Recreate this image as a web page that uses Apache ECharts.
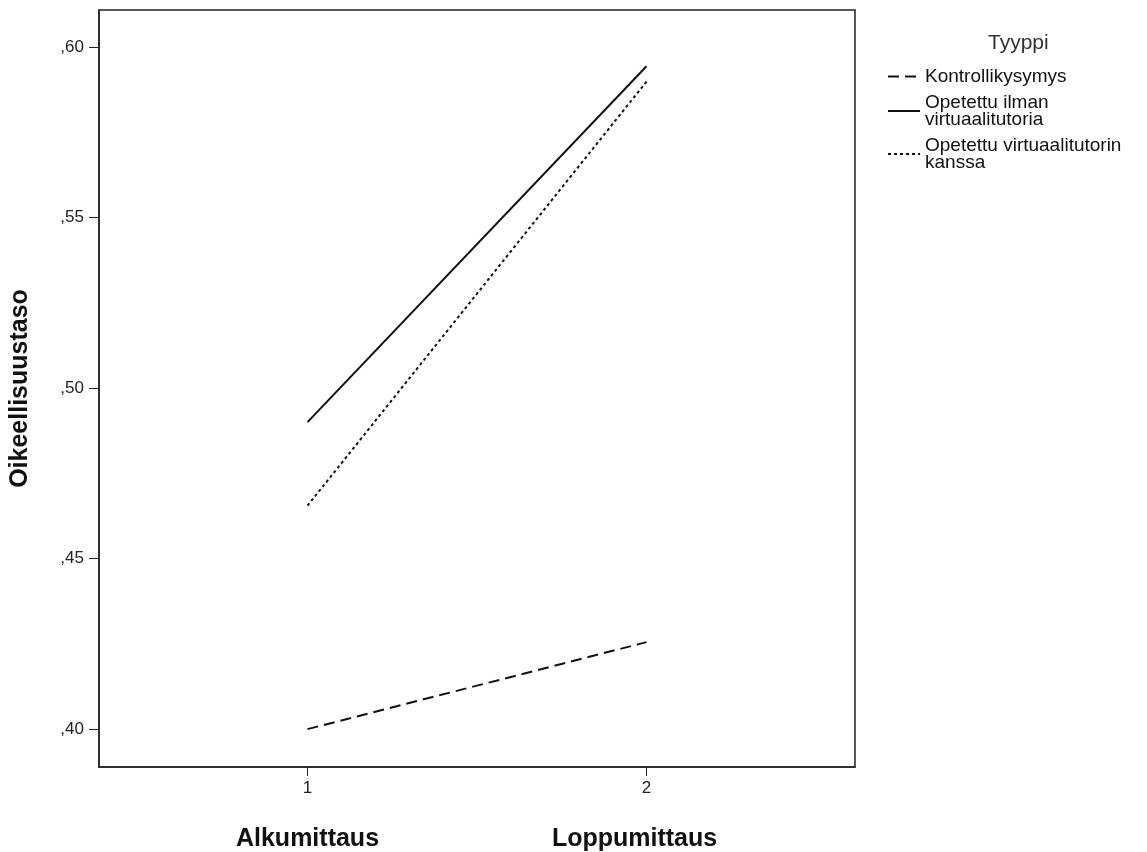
<!DOCTYPE html>
<html>
<head>
<meta charset="utf-8">
<script src="https://cdn.jsdelivr.net/npm/echarts@6/dist/echarts.min.js"></script>
<style>html,body{margin:0;padding:0;background:#fff}#c{width:1147px;height:852px}</style>
</head>
<body>
<div id="c"></div>
<script>
var xValues = [1, 2];
var xCategoryNames = ['Alkumittaus', 'Loppumittaus'];
var yTicks = [0.40, 0.45, 0.50, 0.55, 0.60];
var seriesNames = ['Kontrollikysymys', 'Opetettu ilman\nvirtuaalitutoria', 'Opetettu virtuaalitutorin\nkanssa'];
var kontrolli = [0.400, 0.4255];
var ilman = [0.490, 0.5943];
var virtuaali = [0.4655, 0.5898];

function pairs(vals) { return xValues.map(function (x, i) { return [x, vals[i]]; }); }

var chart = echarts.init(document.getElementById('c'));
var font = 'Liberation Sans, Arial, sans-serif';
chart.setOption({
  backgroundColor: '#fff',
  animation: false,
  textStyle: { fontFamily: font },
  grid: { left: 97, right: 292, top: 10, bottom: 84, show: true, borderColor: '#222', borderWidth: 1.5, containLabel: false },
  title: { text: 'Tyyppi', left: 983, top: 28, textStyle: { fontFamily: font, fontSize: 21, fontWeight: 'normal', color: '#333' } },
  legend: {
    orient: 'vertical', left: 882, top: 62, itemWidth: 32, itemHeight: 10, itemGap: 7,
    itemStyle: { opacity: 0 },
    textStyle: { fontFamily: font, fontSize: 19, color: '#111', lineHeight: 17 },
    data: seriesNames
  },
  xAxis: {
    type: 'value', min: 0.385, max: 2.615,
    splitLine: { show: false },
    axisLine: { show: true, onZero: false, lineStyle: { color: '#222', width: 1.5 } },
    axisTick: { show: true, customValues: xValues, length: 9, lineStyle: { color: '#222' } },
    axisLabel: {
      customValues: xValues, margin: 13, color: '#222', fontSize: 17, fontFamily: font,
      formatter: function (v) { var i = xValues.indexOf(v); return String(v) + '\n{b' + i + '|' + xCategoryNames[i] + '}'; },
      rich: {
        b0: { fontSize: 25, fontWeight: 'bold', color: '#111', fontFamily: font, padding: [30, 0, 0, 0] },
        b1: { fontSize: 25, fontWeight: 'bold', color: '#111', fontFamily: font, padding: [30, 24, 0, 0] }
      }
    }
  },
  yAxis: {
    type: 'value', min: 0.3889, max: 0.6108,
    name: 'Oikeellisuustaso', nameLocation: 'middle', nameGap: 66, nameRotate: 90,
    nameTextStyle: { fontSize: 25, fontWeight: 'bold', color: '#111', fontFamily: font },
    splitLine: { show: false },
    axisLine: { show: true, onZero: false, lineStyle: { color: '#222', width: 1.5 } },
    axisTick: { show: true, customValues: yTicks, length: 10, lineStyle: { color: '#222' } },
    axisLabel: {
      customValues: yTicks, margin: 15, color: '#222', fontSize: 17, fontFamily: font,
      formatter: function (v) { return ',' + v.toFixed(2).split('.')[1]; }
    }
  },
  series: [
    { name: seriesNames[0], type: 'line', symbol: 'none', data: pairs(kontrolli),
      lineStyle: { color: '#111', width: 2, type: [11, 6] }, itemStyle: { color: '#111' } },
    { name: seriesNames[1], type: 'line', symbol: 'none', data: pairs(ilman),
      lineStyle: { color: '#111', width: 2, type: 'solid' }, itemStyle: { color: '#111' } },
    { name: seriesNames[2], type: 'line', symbol: 'none', data: pairs(virtuaali),
      lineStyle: { color: '#111', width: 2, type: [3, 3] }, itemStyle: { color: '#111' } }
  ]
});
</script>
</body>
</html>
